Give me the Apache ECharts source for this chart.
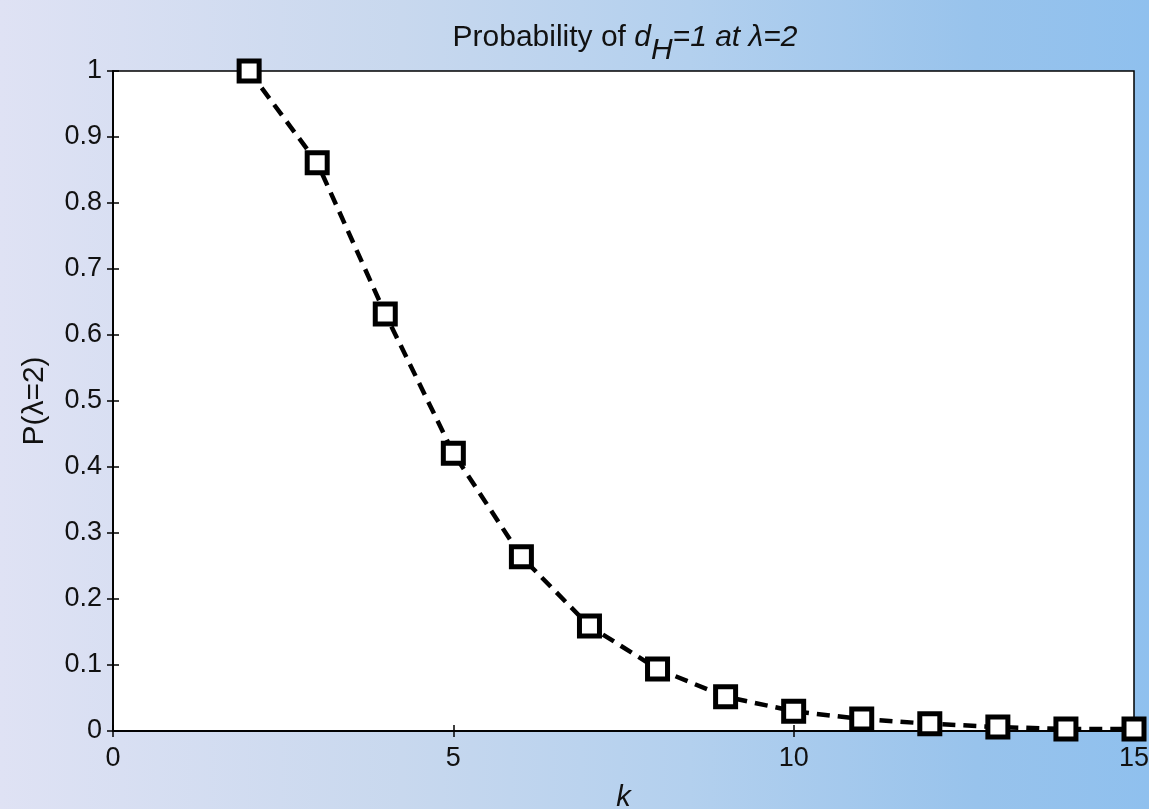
<!DOCTYPE html>
<html>
<head>
<meta charset="utf-8">
<script src="https://cdn.jsdelivr.net/npm/echarts@6/dist/echarts.min.js"></script>
<style>
  html, body { margin: 0; padding: 0; }
  body {
    width: 1149px; height: 809px; overflow: hidden;
    background: linear-gradient(90deg, #dfe2f4 0%, #c8d8ee 35%, #b3d0ee 60%, #98c3ec 85%, #8fc0ee 100%);
  }
  #chart { width: 1149px; height: 809px; }
</style>
</head>
<body>
<div id="chart"></div>
<script>
// 数据
const kValues = [2, 3, 4, 5, 6, 7, 8, 9, 10, 11, 12, 13, 14, 15];
const probValues = [1.0, 0.861, 0.632, 0.421, 0.264, 0.159, 0.094, 0.052, 0.030, 0.018, 0.011, 0.006, 0.003, 0.003];

const fontFam = 'Liberation Sans, Arial, sans-serif';

const chart = echarts.init(document.getElementById('chart'));

const seriesData = kValues.map((k, i) => [k, probValues[i]]);

// 公共坐标轴样式
function axisBase(extra) {
    return Object.assign({
        type: 'value',
        axisLine: { show: true, lineStyle: { color: '#000', width: 1.5 } },
        axisTick: { show: true, inside: true, length: 6, lineStyle: { color: '#000', width: 1.5 } },
        splitLine: { show: false }
    }, extra);
}

const option = {
    backgroundColor: 'transparent',
    animation: false,
    title: {
        text: 'Probability of {i|d}{sub|H}{i|=1 at λ=2}',
        left: 620,
        textAlign: 'center',
        top: 5,
        textStyle: {
            fontFamily: fontFam,
            fontSize: 30,
            fontWeight: 'normal',
            color: '#111',
            rich: {
                i: { fontFamily: fontFam, fontSize: 30, fontStyle: 'italic', color: '#111' },
                sub: { fontFamily: fontFam, fontSize: 30, fontStyle: 'italic', color: '#111', padding: [26, 0, 0, 0] }
            }
        }
    },
    grid: {
        left: 113, right: 15, top: 71, bottom: 78,
        outerBoundsMode: 'none',
        containLabel: false,
        show: true, backgroundColor: '#fff', borderColor: '#000', borderWidth: 1.5
    },
    xAxis: [
        axisBase({
            position: 'bottom',
            min: 0, max: 15, interval: 5,
            name: 'k',
            nameLocation: 'middle',
            nameGap: 52,
            nameTextStyle: { fontFamily: fontFam, fontSize: 29, fontStyle: 'italic', color: '#111' },
            axisLabel: { fontFamily: fontFam, fontSize: 27, color: '#111', margin: 14 }
        }),
        axisBase({
            position: 'top',
            min: 0, max: 15, interval: 5,
            axisLabel: { show: false }
        })
    ],
    yAxis: [
        axisBase({
            position: 'left',
            min: 0, max: 1, interval: 0.1,
            name: 'P(λ=2)',
            nameLocation: 'middle',
            nameGap: 63,
            nameTextStyle: { fontFamily: fontFam, fontSize: 30, color: '#111' },
            axisLabel: { fontFamily: fontFam, fontSize: 27, color: '#111', margin: 11,
                formatter: v => String(Math.round(v * 10) / 10) }
        }),
        axisBase({
            position: 'right',
            min: 0, max: 1, interval: 0.1,
            axisLabel: { show: false }
        })
    ],
    series: [{
        type: 'line',
        data: seriesData,
        xAxisIndex: 0,
        yAxisIndex: 0,
        symbol: 'rect',
        symbolSize: 20,
        clip: false,
        lineStyle: { color: '#000', width: 4.5, type: [13, 8] },
        itemStyle: { color: '#fff', borderColor: '#000', borderWidth: 5 },
        z: 5
    }]
};

chart.setOption(option);
</script>
</body>
</html>
